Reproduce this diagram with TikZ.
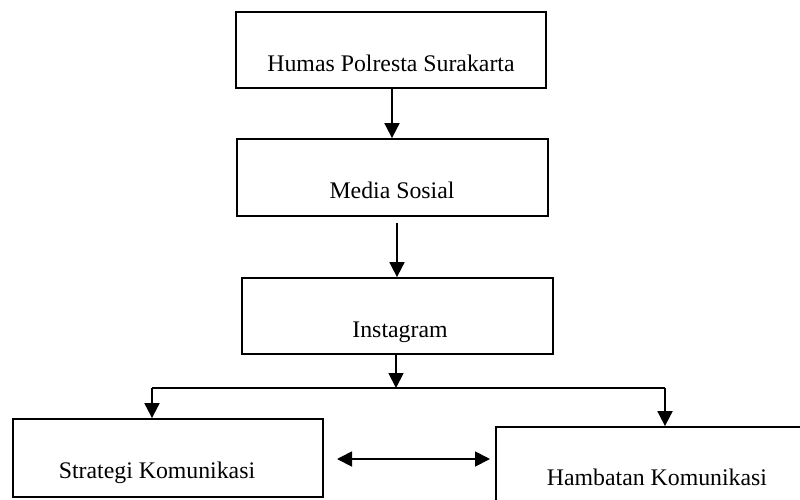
\documentclass[tikz,border=0pt]{standalone}
\usepackage{fontspec}
\setmainfont{Liberation Serif}
\usetikzlibrary{arrows.meta}
\begin{document}
\begin{tikzpicture}[x=1pt,y=-1pt,
  box/.style={draw,line width=1.8pt,minimum width=#1,inner sep=0pt},
  lbl/.style={anchor=base,font=\fontsize{23.8}{28}\selectfont,inner sep=0pt},
  tip/.tip={Triangle[width=15pt,length=15pt]},
  conn/.style={line width=1.8pt,-tip},
  plain/.style={line width=1.3pt}]
\useasboundingbox (0,0) rectangle (800,499);
\clip (0,0) rectangle (800,499);
\node[box=310pt,minimum height=76pt] (b1) at (391,50) {};
\node[box=311pt,minimum height=77pt] (b2) at (392.5,177.5) {};
\node[box=311pt,minimum height=76pt] (b3) at (397.5,316) {};
\node[box=310pt,minimum height=78pt] (b4) at (168,458) {};
\node[box=320pt,minimum height=90pt] (b5) at (656,472) {};
\node[lbl] (t1) at (391,71) {Humas Polresta Surakarta};
\node[lbl] (t2) at (392,198) {Media Sosial};
\node[lbl] (t3) at (400,337) {Instagram};
\node[lbl] (t4) at (157,478) {Strategi Komunikasi};
\node[lbl] (t5) at (657,485) {Hambatan Komunikasi};
\coordinate (a2s) at (397,223);
\coordinate (hl) at (152,388);
\coordinate (hr) at (665,388);
\coordinate (hm) at (396,388);
\draw[conn] (b1.south -| 392,0) -- (b2.north -| 392,0);
\draw[conn] (a2s) -- (a2s |- b3.north);
\draw[conn] (b3.south -| hm) -- (hm);
\draw[plain] (hl) -- (hr);
\draw[conn] (hl) -- (hl |- b4.north);
\draw[conn] (hr) -- (hr |- b5.north);
\draw[line width=1.8pt,tip-tip] (337,459) -- (490,459);
\end{tikzpicture}
\end{document}
